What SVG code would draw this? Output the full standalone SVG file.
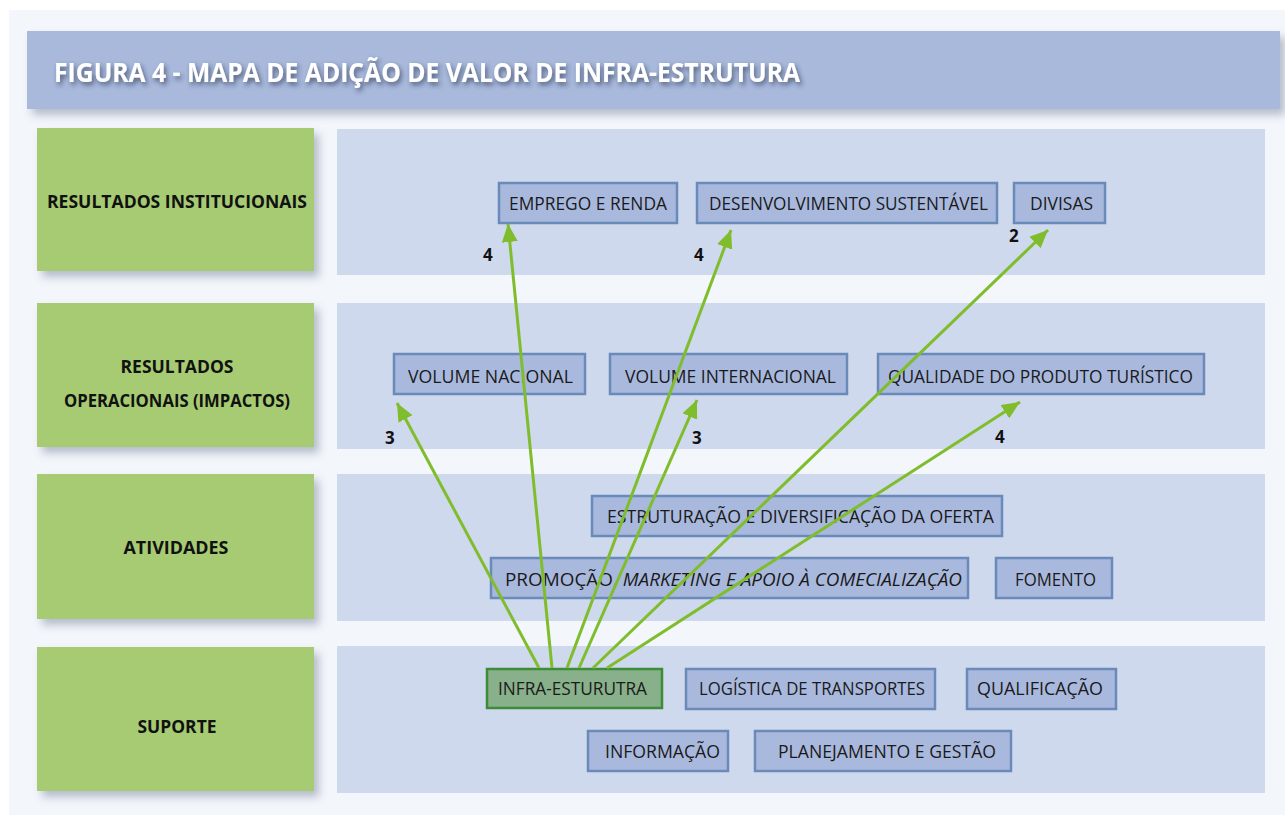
<svg xmlns="http://www.w3.org/2000/svg" width="1285" height="815" viewBox="0 0 1285 815">
<defs>
<style>
.lane{fill:#cfd9ed}
.cat{fill:#a6cb72}
.catt{font-family:"Open Sans","Liberation Sans",sans-serif;font-weight:bold;font-size:17px;fill:#111;text-anchor:middle}
.nb{fill:#a9b9de;stroke:#6a8ab9;stroke-width:2.5}
.nt{font-family:"Open Sans","Liberation Sans",sans-serif;font-size:18px;fill:#1a1a1a}
.num{font-family:"Open Sans","Liberation Sans",sans-serif;font-weight:bold;font-size:17px;fill:#111}
.conn line{stroke:#80bd2c;stroke-width:3;marker-end:url(#ah)}
</style>
<marker id="ah" markerUnits="userSpaceOnUse" markerWidth="20" markerHeight="16" viewBox="0 0 20 16" refX="18" refY="8" orient="auto">
<path d="M0,0 L18,8 L0,16 Z" fill="#80bd2c"/>
</marker>
<filter id="sh" x="-10%" y="-20%" width="130%" height="150%">
<feDropShadow dx="5" dy="6" stdDeviation="4" flood-color="#6b7690" flood-opacity="0.45"/>
</filter>
<filter id="tsh" x="-5%" y="-30%" width="110%" height="180%">
<feDropShadow dx="2" dy="3" stdDeviation="2.5" flood-color="#2b3550" flood-opacity="0.7"/>
</filter>
</defs>
<rect x="0" y="0" width="1285" height="815" fill="#ffffff"/>
<rect x="9" y="10" width="1276" height="805" fill="#f3f6fb"/>
<g id="title">
<rect x="27" y="31" width="1253" height="78" fill="#a8b9dc" filter="url(#sh)"/>
<text x="54" y="82" font-family="'Open Sans','Liberation Sans',sans-serif" font-weight="bold" font-size="27" fill="#ffffff" textLength="746" lengthAdjust="spacingAndGlyphs" filter="url(#tsh)">FIGURA 4 - MAPA DE ADIÇÃO DE VALOR DE INFRA-ESTRUTURA</text>
</g>
<g id="lanes">
<rect class="lane" x="337" y="129" width="928" height="146"/>
<rect class="lane" x="337" y="303" width="928" height="146"/>
<rect class="lane" x="337" y="474" width="928" height="147"/>
<rect class="lane" x="337" y="646" width="928" height="147"/>
</g>
<g id="cat-institucionais">
<rect class="cat" x="37" y="128" width="277" height="143" filter="url(#sh)"/>
<text class="catt" x="177" y="208" textLength="260" lengthAdjust="spacingAndGlyphs">RESULTADOS INSTITUCIONAIS</text>
</g>
<g id="cat-operacionais">
<rect class="cat" x="37" y="303" width="277" height="144" filter="url(#sh)"/>
<text class="catt" x="177" y="373" textLength="113" lengthAdjust="spacingAndGlyphs">RESULTADOS</text>
<text class="catt" x="177" y="407" textLength="226" lengthAdjust="spacingAndGlyphs">OPERACIONAIS (IMPACTOS)</text>
</g>
<g id="cat-atividades">
<rect class="cat" x="37" y="474" width="277" height="145" filter="url(#sh)"/>
<text class="catt" x="176" y="554" textLength="105" lengthAdjust="spacingAndGlyphs">ATIVIDADES</text>
</g>
<g id="cat-suporte">
<rect class="cat" x="37" y="647" width="277" height="144" filter="url(#sh)"/>
<text class="catt" x="177" y="733" textLength="79" lengthAdjust="spacingAndGlyphs">SUPORTE</text>
</g>
<g id="n-emprego"><rect class="nb" x="499" y="183" width="178" height="40"/><text class="nt" x="509" y="210" textLength="158" lengthAdjust="spacingAndGlyphs">EMPREGO E RENDA</text></g>
<g id="n-desenvolvimento"><rect class="nb" x="697" y="183" width="300" height="40"/><text class="nt" x="709" y="210" textLength="279" lengthAdjust="spacingAndGlyphs">DESENVOLVIMENTO SUSTENTÁVEL</text></g>
<g id="n-divisas"><rect class="nb" x="1014" y="183" width="91" height="40"/><text class="nt" x="1030" y="210" textLength="63" lengthAdjust="spacingAndGlyphs">DIVISAS</text></g>
<g id="n-volnac"><rect class="nb" x="394" y="354" width="191" height="40"/><text class="nt" x="408" y="383" textLength="165" lengthAdjust="spacingAndGlyphs">VOLUME NACIONAL</text></g>
<g id="n-volint"><rect class="nb" x="610" y="354" width="237" height="40"/><text class="nt" x="625" y="383" textLength="211" lengthAdjust="spacingAndGlyphs">VOLUME INTERNACIONAL</text></g>
<g id="n-qualidade"><rect class="nb" x="878" y="354" width="326" height="40"/><text class="nt" x="888" y="383" textLength="305" lengthAdjust="spacingAndGlyphs">QUALIDADE DO PRODUTO TURÍSTICO</text></g>
<g id="n-estruturacao"><rect class="nb" x="592" y="496" width="410" height="40"/><text class="nt" x="607" y="523" textLength="387" lengthAdjust="spacingAndGlyphs">ESTRUTURAÇÃO E DIVERSIFICAÇÃO DA OFERTA</text></g>
<g id="n-promocao"><rect class="nb" x="491" y="558" width="477" height="40"/><text class="nt" x="505" y="586" textLength="457" lengthAdjust="spacingAndGlyphs">PROMOÇÃO, <tspan font-style="italic">MARKETING E APOIO À COMECIALIZAÇÃO</tspan></text></g>
<g id="n-fomento"><rect class="nb" x="996" y="558" width="116" height="40"/><text class="nt" x="1015" y="586" textLength="81" lengthAdjust="spacingAndGlyphs">FOMENTO</text></g>
<g id="n-infra"><rect x="487" y="669" width="175" height="39" fill="#88b08a" stroke="#3d8c3a" stroke-width="2.5"/><text class="nt" x="498" y="695" textLength="149" lengthAdjust="spacingAndGlyphs">INFRA-ESTURUTRA</text></g>
<g id="n-logistica"><rect class="nb" x="686" y="669" width="249" height="40"/><text class="nt" x="699" y="695" textLength="226" lengthAdjust="spacingAndGlyphs">LOGÍSTICA DE TRANSPORTES</text></g>
<g id="n-qualificacao"><rect class="nb" x="967" y="669" width="149" height="40"/><text class="nt" x="977" y="695" textLength="126" lengthAdjust="spacingAndGlyphs">QUALIFICAÇÃO</text></g>
<g id="n-informacao"><rect class="nb" x="588" y="731" width="140" height="40"/><text class="nt" x="605" y="758" textLength="115" lengthAdjust="spacingAndGlyphs">INFORMAÇÃO</text></g>
<g id="n-planejamento"><rect class="nb" x="755" y="731" width="256" height="40"/><text class="nt" x="778" y="758" textLength="218" lengthAdjust="spacingAndGlyphs">PLANEJAMENTO E GESTÃO</text></g>
<g id="connectors" class="conn">
<line x1="539" y1="668" x2="397" y2="403"/>
<line x1="552" y1="668" x2="508" y2="224"/>
<line x1="567" y1="668" x2="731" y2="230"/>
<line x1="579" y1="668" x2="697" y2="400"/>
<line x1="593" y1="668" x2="1048" y2="230"/>
<line x1="607" y1="668" x2="1020" y2="402"/>
</g>
<g id="labels">
<text class="num" x="483" y="261">4</text>
<text class="num" x="694" y="261">4</text>
<text class="num" x="1009" y="242">2</text>
<text class="num" x="385" y="444">3</text>
<text class="num" x="692" y="444">3</text>
<text class="num" x="995" y="443">4</text>
</g>
</svg>
